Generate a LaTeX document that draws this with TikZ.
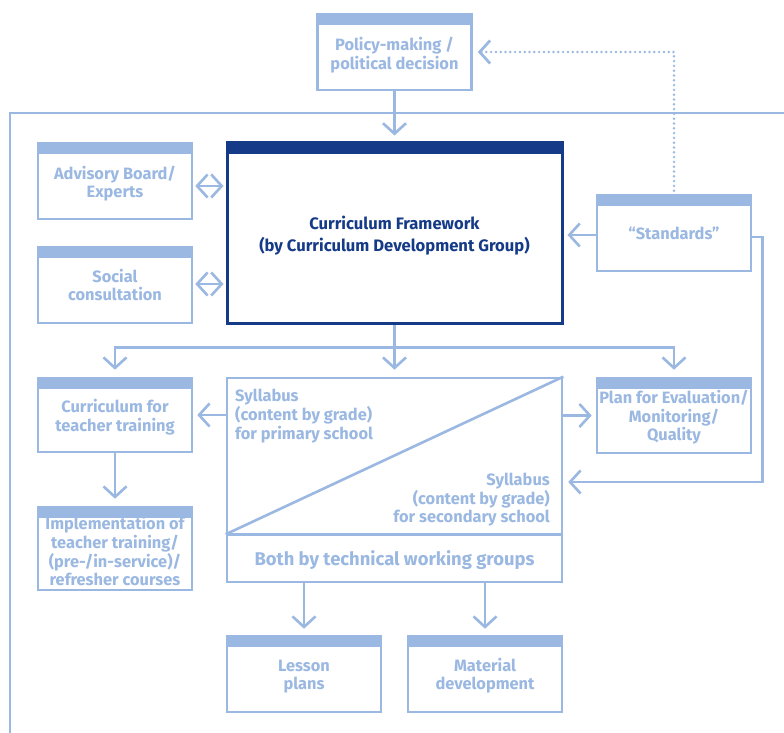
\documentclass[tikz,border=0pt]{standalone}
\usepackage{fontspec}
\setmainfont{Fira Sans}
\usetikzlibrary{arrows.meta}
\definecolor{lb}{RGB}{154,184,225}
\definecolor{db}{RGB}{21,58,135}
\newcommand\boxtxt[2][3pt]{\raisebox{-#1}[\height][\depth]{\begin{tabular}{@{}c@{}}#2\end{tabular}}}
\newcommand\lefttxt[1]{\begin{tabular}[t]{@{}l@{}}#1\end{tabular}}
\newcommand\righttxt[1]{\begin{tabular}[t]{@{}r@{}}#1\end{tabular}}
\begin{document}
\begin{tikzpicture}[x=1pt,y=-1pt,
  lw/.style={line width=2.6pt},
  txt/.style={text=lb, font=\bfseries\fontsize{16.4}{18}\selectfont},
  hbox/.style={draw=lb, lw, fill=white, inner sep=0pt, txt,
    minimum width=154pt, minimum height=76pt,
    path picture={\fill[lb] (path picture bounding box.north west) rectangle ([yshift=-11pt]path picture bounding box.north east);}},
  dbox/.style={draw=db, line width=3pt, fill=white, inner sep=0pt,
    text=db, font=\bfseries\fontsize{16.6}{22.7}\selectfont,
    path picture={\fill[db] (path picture bounding box.north west) rectangle ([yshift=-11pt]path picture bounding box.north east);}},
  pbox/.style={draw=lb, lw, fill=white, inner sep=0pt},
  ln/.style={draw=lb, lw},
  tipb/.tip={Straight Barb[length=10.5pt,width=23pt]},
  arr/.style={ln, -tipb},
  darr/.style={ln, tipb-tipb},
  dots/.style={draw=lb, line width=2.7pt, line cap=round, dash pattern=on 0pt off 4.8pt, -tipb}
]
\useasboundingbox (0,0) rectangle (784,733);
\fill[white] (0,0) rectangle (784,733);

% outer frame
\coordinate (fa) at (10,733);
\coordinate (fb) at (10,113);
\coordinate (fc) at (784,113);
\draw[ln] (fa) -- (fb) -- (fc);

% boxes
\node[hbox] (policy) at (394.5,52) {\boxtxt[4pt]{Policy-making /\\political decision}};
\node[hbox] (advisory) at (115,181) {\boxtxt[4pt]{Advisory Board/\\Experts}};
\node[hbox] (social) at (115,285) {\boxtxt[2.5pt]{Social\\consultation}};
\node[dbox, minimum width=335pt, minimum height=180pt] (framework) at (394.5,233)
  {\boxtxt[3pt]{Curriculum Framework\\(by Curriculum Development Group)}};
\node[hbox] (standards) at (674,233) {\boxtxt[3pt]{“Standards”}};
\node[hbox, minimum height=74pt] (teacher) at (115,415) {\boxtxt[3pt]{Curriculum for\\teacher training}};
\node[hbox, minimum height=83pt] (impl) at (115,548.5)
  {\boxtxt[5pt]{Implementation of\\teacher training/\\(pre-/in-service)/\\refresher courses}};
\node[hbox, minimum height=75pt] (plan) at (674,415.5) {\boxtxt[2.5pt]{Plan for Evaluation/\\Monitoring/\\Quality}};
\node[pbox, minimum width=335pt, minimum height=204pt] (syllabus) at (394.5,480) {};
\node[hbox] (lesson) at (304,674) {\boxtxt[3pt]{Lesson\\plans}};
\node[hbox] (material) at (485,674) {\boxtxt[3pt]{Material\\development}};

% syllabus interior
\coordinate (dl) at ([yshift=49pt]syllabus.south west);
\coordinate (dr) at ([yshift=49pt]syllabus.south east);
\draw[ln] (dl) -- (dr);
\draw[ln] (dl) -- (syllabus.north east);
\node[txt, anchor=base west, inner sep=0pt] (sylp) at (235,401.5)
  {\lefttxt{Syllabus\\(content by grade)\\for primary school}};
\node[txt, anchor=base east, inner sep=0pt] (syls) at (550,485)
  {\righttxt{Syllabus\\(content by grade)\\for secondary school}};
\node[txt, font=\bfseries\fontsize{18.4}{20}\selectfont, anchor=base, inner sep=0pt] (both) at (394.5,565)
  {Both by technical working groups};

% connectors
\draw[arr, shorten >=6pt] (policy.south) -- (framework.north);
\draw[darr, shorten <=2pt, shorten >=2pt] ([yshift=-5pt]advisory.east) -- ([yshift=-5pt]advisory.east -| framework.west);
\draw[darr, shorten <=2pt, shorten >=2pt] ([yshift=1pt]social.east) -- ([yshift=1pt]social.east -| framework.west);
\draw[arr, shorten >=4pt] ([yshift=-2pt]standards.west) -- ([yshift=-2pt]standards.west -| framework.east);
\draw[dots, shorten >=5pt, shorten <=3pt] (standards.north) |- (policy.east);
\coordinate (sr1) at ([yshift=-4pt, xshift=10pt]standards.east);
\draw[arr, shorten >=5pt] ([yshift=-4pt]standards.east) -- (sr1) |- ([yshift=-2pt]syllabus.east);

\coordinate (br) at ([yshift=-23pt]framework.south);
\draw[ln] (framework.south) -- (br);
\draw[ln] ([xshift=-1.3pt]teacher.north |- br) -- ([xshift=1.3pt]plan.north |- br);
\draw[arr, shorten >=7pt] (teacher.north |- br) -- (teacher.north);
\draw[arr, shorten >=7pt] (br) -- (syllabus.north);
\draw[arr, shorten >=7pt] (plan.north |- br) -- (plan.north);

\draw[arr, shorten >=4pt] (syllabus.west |- teacher.east) -- (teacher.east);
\draw[arr, shorten >=4pt] (syllabus.east |- plan.west) -- (plan.west);
\draw[arr, shorten >=7pt] (teacher.south) -- (impl.north);
\draw[arr, shorten >=6pt] (syllabus.south -| lesson.north) -- (lesson.north);
\draw[arr, shorten >=6pt] (syllabus.south -| material.north) -- (material.north);
\end{tikzpicture}
\end{document}
